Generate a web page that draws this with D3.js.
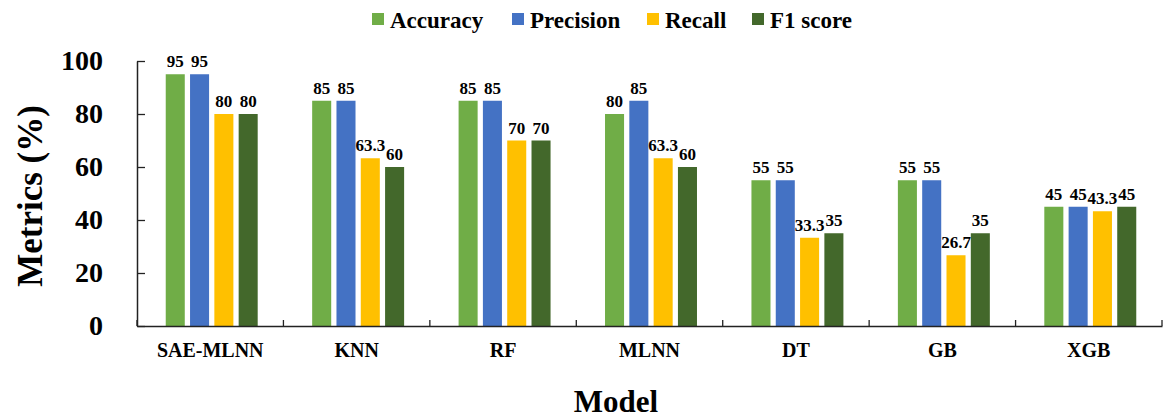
<!DOCTYPE html>
<html>
<head>
<meta charset="utf-8">
<script src="https://cdn.jsdelivr.net/npm/d3@7"></script>
<style>
  html, body { margin: 0; padding: 0; background: #fff; }
</style>
</head>
<body>
<svg id="chart" width="1163" height="418"></svg>
<script>
const categories = ["SAE-MLNN", "KNN", "RF", "MLNN", "DT", "GB", "XGB"];
const seriesNames = ["Accuracy", "Precision", "Recall", "F1 score"];
const accuracy  = [95, 85, 85, 80, 55, 55, 45];
const precision = [95, 85, 85, 85, 55, 55, 45];
const recall    = [80, 63.3, 70, 63.3, 33.3, 26.7, 43.3];
const f1score   = [80, 60, 70, 60, 35, 35, 45];
const yTicks = [0, 20, 40, 60, 80, 100];
const colors = ["#70AD47", "#4472C4", "#FFC000", "#43682B"];

const series = [accuracy, precision, recall, f1score];
const FONT = "'Liberation Serif', 'Times New Roman', Times, 'DejaVu Serif', serif";

const svg = d3.select("#chart");
const mLeft = 137, mRight = 1162, mTop = 61, mBottom = 326;

const x = d3.scaleBand().domain(categories).range([mLeft, mRight]).padding(0);
const y = d3.scaleLinear().domain([0, 100]).range([mBottom, mTop]);

const bw = x.bandwidth();
const barW = bw * 0.13;
const step = bw * 0.166;
const groupW = step * 3 + barW;
const x1 = d3.scaleBand().domain(d3.range(series.length)).range([0, step * 4]).padding(0);

// bars
series.forEach((vals, si) => {
  const g = svg.append("g");
  g.selectAll("rect").data(vals).enter().append("rect")
    .attr("x", (d, i) => x(categories[i]) + bw / 2 - groupW / 2 + 1.5 + x1(si))
    .attr("y", d => y(d))
    .attr("width", barW)
    .attr("height", d => y(0) - y(d))
    .attr("fill", colors[si]);
  g.selectAll("text").data(vals).enter().append("text")
    .attr("x", (d, i) => x(categories[i]) + bw / 2 - groupW / 2 + 1.5 + x1(si) + barW / 2)
    .attr("y", d => y(d) - 7)
    .attr("text-anchor", "middle")
    .style("font-size", "17px")
    .text(d => d);
});

// y axis
const yAxis = d3.axisLeft(y).tickValues(yTicks).tickSize(-8).tickPadding(34).tickSizeOuter(0);
const ya = svg.append("g").attr("transform", `translate(${mLeft},0)`).call(yAxis);
ya.select(".domain").attr("stroke", "#222").attr("stroke-width", 1.5);
ya.selectAll(".tick line").attr("stroke", "#222").attr("stroke-width", 1.3);
ya.selectAll(".tick text").style("font-size", "28px");

// x axis line
const xa = svg.append("g").attr("transform", `translate(0,${mBottom})`)
  .call(d3.axisBottom(x).tickSize(0).tickPadding(17).tickSizeOuter(0));
xa.select(".domain").attr("stroke", "#222").attr("stroke-width", 1.5);
xa.selectAll(".tick text").style("font-size", "20px");
// boundary ticks (inside)
const bounds = categories.map(c => x(c)).concat([x(categories[categories.length - 1]) + bw]);
svg.append("g").selectAll("line").data(bounds).enter().append("line")
  .attr("x1", d => d).attr("x2", d => d)
  .attr("y1", mBottom).attr("y2", mBottom - 6)
  .attr("stroke", "#222").attr("stroke-width", 1.3);

// axis titles
svg.append("text")
  .attr("transform", `translate(42,196) rotate(-90)`)
  .attr("text-anchor", "middle")
  .style("font-size", "35px")
  .text("Metrics (%)");
svg.append("text")
  .attr("x", 616).attr("y", 412)
  .attr("text-anchor", "middle")
  .style("font-size", "31px")
  .text("Model");

// legend
const legendX = [372, 512, 647, 752];
const lg = svg.append("g");
seriesNames.forEach((n, i) => {
  lg.append("rect").attr("x", legendX[i]).attr("y", 13).attr("width", 12).attr("height", 12).attr("fill", colors[i]);
  lg.append("text").attr("x", legendX[i] + 18).attr("y", 28).style("font-size", "23px").text(n);
});

svg.selectAll("text")
  .style("font-family", FONT)
  .style("font-weight", "bold")
  .attr("fill", "#000");
</script>
</body>
</html>
